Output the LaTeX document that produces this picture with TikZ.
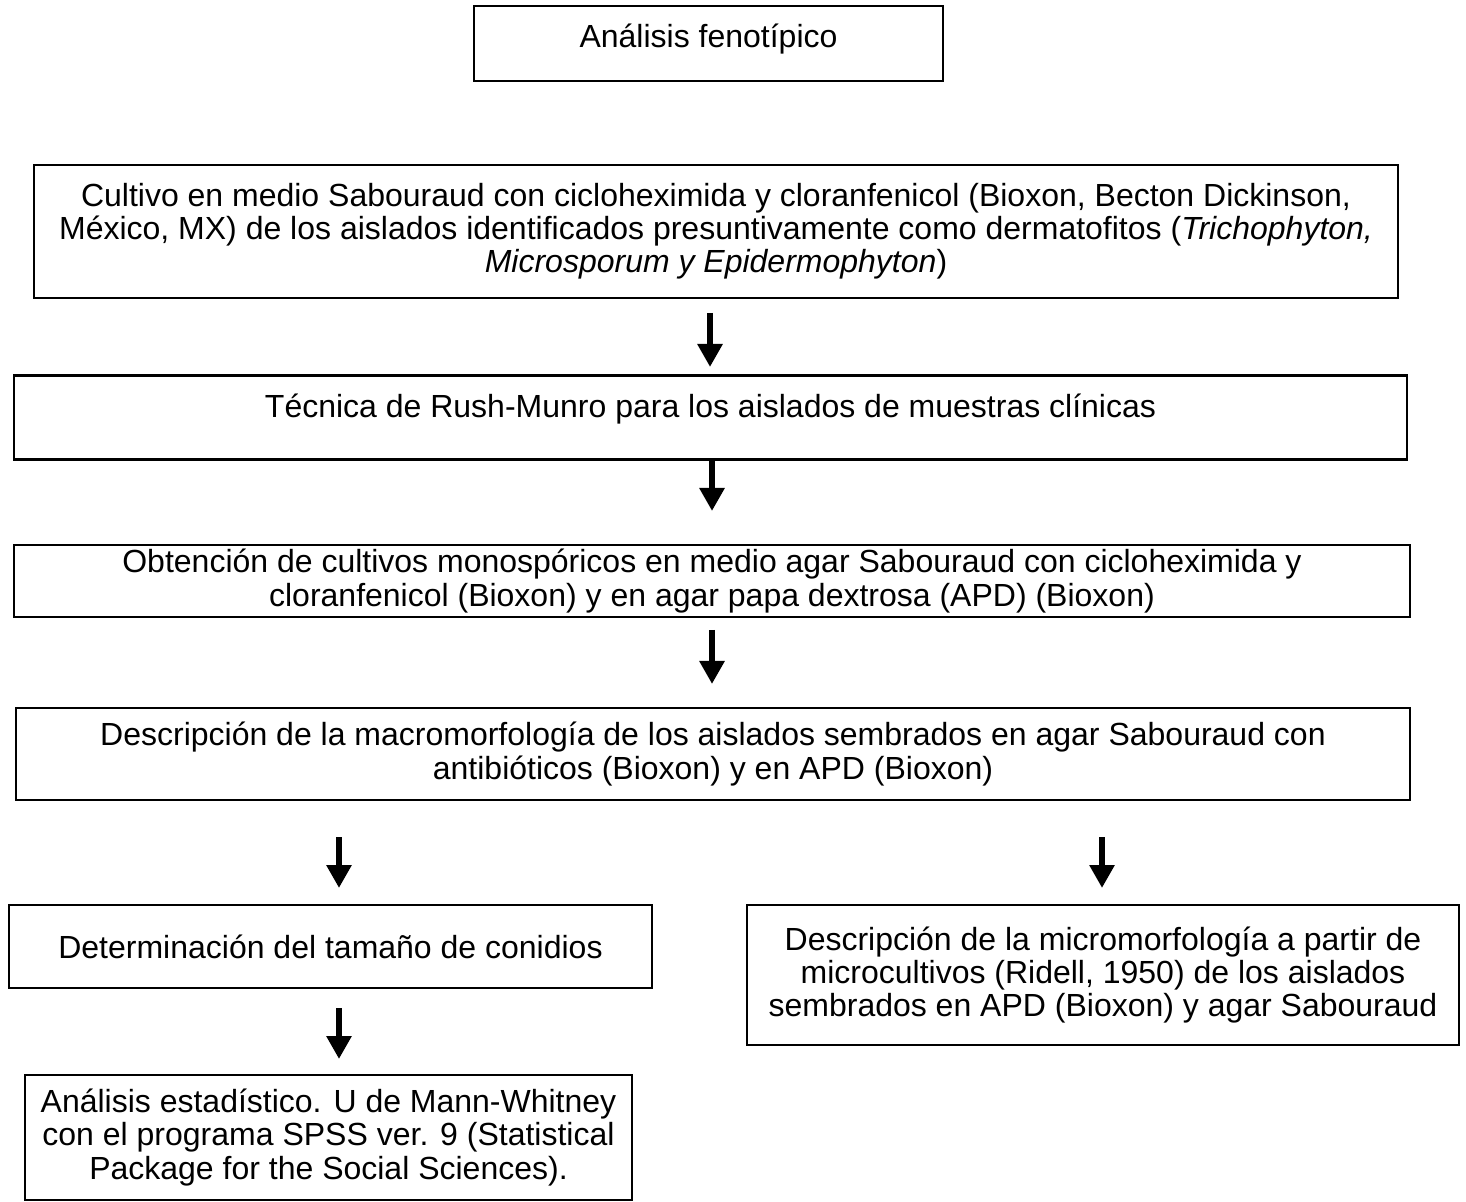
\documentclass[tikz,border=0pt]{standalone}
\usepackage{fontspec}
\setmainfont{Liberation Sans}
\usetikzlibrary{arrows.meta}
\tikzset{
    caja/.style={draw, line width=1.1pt, align=center, inner sep=0pt,
        font=\fontsize{16}{16.6}\selectfont},
    flecha/.style={line width=3.2pt, -{Triangle[width=12pt,length=11.5pt]}}
}
\begin{document}
\begin{tikzpicture}[x=0.5pt,y=-0.5pt]
    \useasboundingbox (0,0) rectangle (1466,1202);
   \node [caja, minimum width=234.5pt, minimum height=37.5pt, text depth=8pt] (titulo) at (708.5,43.5) {Análisis fenotípico};
   \node [caja, minimum width=682pt, minimum height=66.5pt] (cultivo) at (716,231.5) {Cultivo en medio Sabouraud con cicloheximida y cloranfenicol (Bioxon, Becton Dickinson,\\ México, MX) de los aislados identificados presuntivamente como dermatofitos (\textit{Trichophyton,}\\ \textit{Microsporum y Epidermophyton})};
   \node [caja, minimum width=696.5pt, minimum height=42pt, text depth=12pt] (rush) at (710.5,417.5) {Técnica de Rush-Munro para los aislados de muestras clínicas};
   \node [caja, minimum width=698pt, minimum height=36pt] (mono) at (712,581) {Obtención de cultivos monospóricos en medio agar Sabouraud con cicloheximida y\\ cloranfenicol (Bioxon) y en agar papa dextrosa (APD) (Bioxon)};
   \node [caja, minimum width=697pt, minimum height=46pt] (macro) at (713,754) {Descripción de la macromorfología de los aislados sembrados en agar Sabouraud con\\ antibióticos (Bioxon) y en APD (Bioxon)};
   \node [caja, minimum width=321.5pt, minimum height=41.5pt] (conidios) at (330.5,946.5) {Determinación del tamaño de conidios};
   \node [caja, minimum width=356pt, minimum height=70pt] (micro) at (1103,975) {Descripción de la micromorfología a partir de\\ microcultivos (Ridell, 1950) de los aislados\\ sembrados en APD (Bioxon) y agar Sabouraud};
   \node [caja, minimum width=303.5pt, minimum height=62.5pt] (estad) at (328.5,1137.5) {Análisis estadístico. U de Mann-Whitney\\ con el programa SPSS ver. 9 (Statistical\\ Package for the Social Sciences).};
   % flechas sueltas entre cajas
   \coordinate (f1a) at (710,313);
   \coordinate (f1b) at (710,367);
   \coordinate (f2a) at (712,459);
   \coordinate (f2b) at (712,511);
   \coordinate (f3a) at (712,630);
   \coordinate (f3b) at (712,684);
   \coordinate (f4a) at (339,837);
   \coordinate (f4b) at (339,888);
   \coordinate (f5a) at (1102,837);
   \coordinate (f5b) at (1102,888);
   \coordinate (f6a) at (339,1008);
   \coordinate (f6b) at (339,1059);
   \draw [flecha] (f1a) -- (f1b);
   \draw [flecha] (f2a) -- (f2b);
   \draw [flecha] (f3a) -- (f3b);
   \draw [flecha] (f4a) -- (f4b);
   \draw [flecha] (f5a) -- (f5b);
   \draw [flecha] (f6a) -- (f6b);
\end{tikzpicture}
\end{document}
